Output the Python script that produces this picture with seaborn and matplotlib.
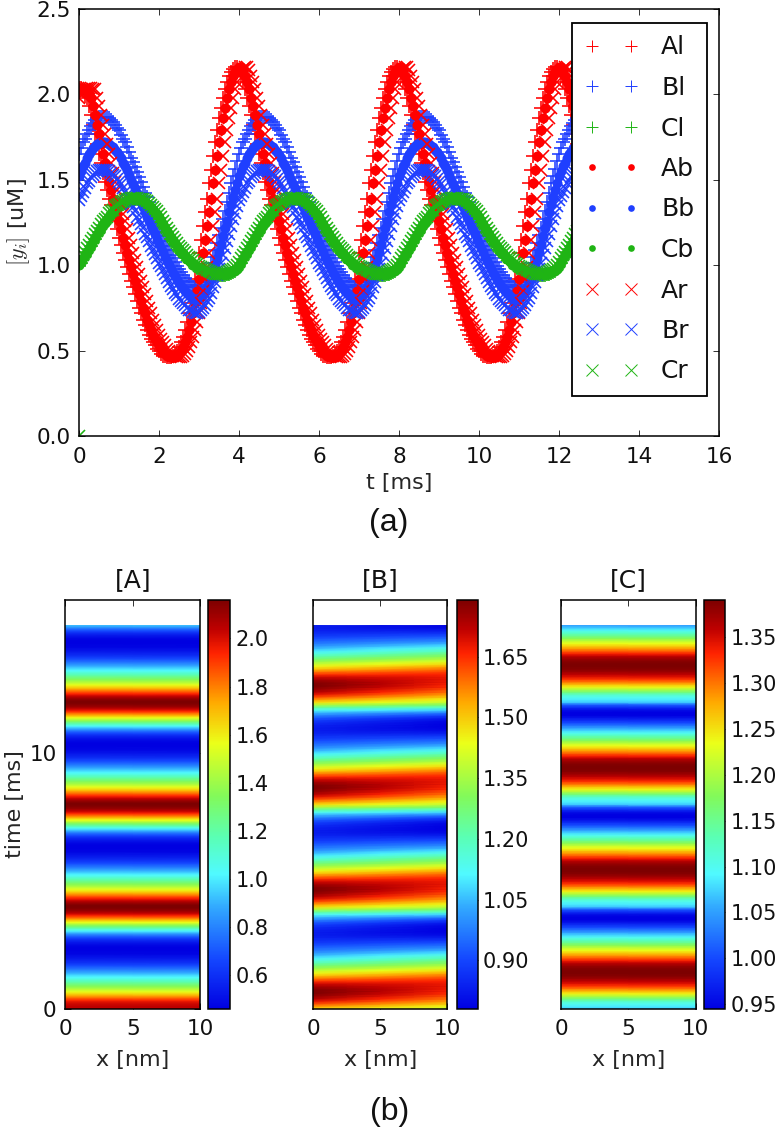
import numpy as np
import matplotlib
matplotlib.use('Agg')
import matplotlib.pyplot as plt
from matplotlib.colors import LinearSegmentedColormap
import seaborn as sns

# one oscillation of each trace, read every 0.05 ms (period about 4 ms)
al_cycle = [2.14,2.11,2.07,2.03,1.98,1.93,1.88,1.82,1.77,1.71,
            1.65,1.60,1.54,1.49,1.44,1.39,1.35,1.30,1.26,1.21,
            1.16,1.12,1.07,1.03,.99,.95,.91,.87,.83,.79,
            .75,.72,.68,.65,.62,.59,.57,.55,.53,.51,
            .50,.48,.47,.47,.46,.46,.46,.47,.48,.50,
            .52,.55,.58,.62,.67,.72,.78,.85,.92,.99,
            1.07,1.15,1.23,1.31,1.39,1.48,1.56,1.64,1.72,1.79,
            1.86,1.92,1.98,2.03,2.07,2.11,2.13,2.15,2.16,2.16]
ab_cycle = [2.16,2.16,2.14,2.11,2.07,2.03,1.98,1.93,1.88,1.82,
            1.77,1.71,1.65,1.60,1.54,1.49,1.44,1.39,1.35,1.30,
            1.26,1.21,1.16,1.12,1.07,1.03,.99,.95,.91,.87,
            .83,.79,.75,.72,.68,.65,.62,.59,.57,.55,
            .53,.51,.50,.48,.47,.47,.46,.46,.46,.47,
            .48,.50,.52,.55,.58,.62,.67,.72,.78,.85,
            .92,.99,1.07,1.15,1.23,1.31,1.39,1.48,1.56,1.64,
            1.72,1.79,1.86,1.92,1.98,2.03,2.07,2.11,2.13,2.15]
ar_cycle = [2.11,2.13,2.15,2.16,2.16,2.14,2.11,2.07,2.03,1.98,
            1.93,1.88,1.82,1.77,1.71,1.65,1.60,1.54,1.49,1.44,
            1.39,1.35,1.30,1.26,1.21,1.16,1.12,1.07,1.03,.99,
            .95,.91,.87,.83,.79,.75,.72,.68,.65,.62,
            .59,.57,.55,.53,.51,.50,.48,.47,.47,.46,
            .46,.46,.47,.48,.50,.52,.55,.58,.62,.67,
            .72,.78,.85,.92,.99,1.07,1.15,1.23,1.31,1.39,
            1.48,1.56,1.64,1.72,1.79,1.86,1.92,1.98,2.03,2.07]
bl_cycle = [1.65,1.685,1.72,1.74,1.77,1.79,1.815,1.83,1.85,1.86,
            1.865,1.87,1.87,1.87,1.865,1.86,1.85,1.84,1.82,1.805,
            1.79,1.765,1.74,1.72,1.69,1.665,1.63,1.605,1.575,1.545,
            1.515,1.49,1.455,1.425,1.40,1.37,1.34,1.31,1.285,1.25,
            1.225,1.195,1.17,1.14,1.115,1.09,1.06,1.04,1.02,.995,
            .975,.96,.94,.925,.91,.90,.885,.875,.87,.87,
            .875,.885,.90,.925,.95,.98,1.01,1.05,1.09,1.13,
            1.175,1.22,1.27,1.32,1.37,1.425,1.48,1.52,1.565,1.61]
bb_cycle = [1.52,1.55,1.58,1.60,1.63,1.65,1.67,1.685,1.70,1.71,
            1.715,1.72,1.72,1.72,1.715,1.71,1.70,1.69,1.675,1.66,
            1.645,1.625,1.60,1.58,1.555,1.53,1.50,1.475,1.45,1.42,
            1.395,1.37,1.34,1.31,1.285,1.26,1.23,1.205,1.18,1.15,
            1.125,1.10,1.075,1.05,1.025,1.00,.975,.955,.935,.915,
            .895,.88,.865,.85,.835,.825,.815,.805,.80,.80,
            .805,.815,.83,.85,.875,.90,.93,.965,1.00,1.04,
            1.08,1.125,1.17,1.215,1.26,1.31,1.36,1.40,1.44,1.48]
br_cycle = [1.38,1.405,1.43,1.45,1.48,1.495,1.515,1.53,1.54,1.55,
            1.555,1.56,1.56,1.56,1.555,1.55,1.54,1.53,1.52,1.505,
            1.49,1.475,1.45,1.43,1.41,1.385,1.36,1.34,1.315,1.285,
            1.265,1.24,1.215,1.185,1.165,1.14,1.11,1.09,1.065,1.04,
            1.015,.995,.97,.95,.925,.90,.88,.86,.84,.825,
            .805,.79,.78,.765,.75,.74,.735,.725,.72,.72,
            .725,.735,.75,.765,.79,.81,.84,.87,.90,.94,
            .975,1.015,1.06,1.10,1.14,1.185,1.23,1.27,1.305,1.345]
cl_cycle = [.995,1.015,1.035,1.055,1.075,1.095,1.115,1.135,1.155,1.175,
            1.195,1.215,1.235,1.245,1.265,1.285,1.295,1.305,1.325,1.335,
            1.345,1.355,1.36,1.365,1.37,1.375,1.38,1.385,1.385,1.385,
            1.38,1.375,1.37,1.365,1.355,1.345,1.335,1.32,1.305,1.295,
            1.275,1.255,1.235,1.215,1.195,1.175,1.155,1.14,1.125,1.105,
            1.09,1.075,1.065,1.05,1.04,1.025,1.015,1.005,.995,.985,
            .975,.97,.965,.96,.955,.95,.945,.945,.945,.945,
            .945,.945,.945,.945,.95,.95,.955,.96,.965,.975]
cb_cycle = [1.00,1.02,1.04,1.06,1.08,1.10,1.12,1.14,1.16,1.18,
            1.20,1.22,1.24,1.25,1.27,1.29,1.30,1.31,1.33,1.34,
            1.35,1.36,1.365,1.37,1.375,1.38,1.385,1.39,1.39,1.39,
            1.385,1.38,1.375,1.37,1.36,1.35,1.34,1.325,1.31,1.30,
            1.28,1.26,1.24,1.22,1.20,1.18,1.16,1.145,1.13,1.11,
            1.095,1.08,1.07,1.055,1.045,1.03,1.02,1.01,1.00,.99,
            .98,.975,.97,.965,.96,.955,.95,.95,.945,.945,
            .945,.945,.945,.95,.95,.955,.96,.965,.97,.98]
cr_cycle = [1.02,1.04,1.06,1.08,1.10,1.12,1.14,1.16,1.18,1.20,
            1.22,1.24,1.26,1.27,1.285,1.305,1.315,1.325,1.345,1.355,
            1.36,1.37,1.375,1.38,1.385,1.39,1.395,1.395,1.395,1.395,
            1.39,1.39,1.385,1.38,1.375,1.365,1.355,1.34,1.33,1.32,
            1.30,1.28,1.26,1.24,1.22,1.20,1.18,1.165,1.15,1.13,
            1.115,1.10,1.09,1.075,1.06,1.05,1.04,1.03,1.015,1.005,
            .995,.99,.985,.975,.97,.965,.96,.955,.95,.95,
            .95,.95,.95,.955,.96,.965,.97,.98,.99,1.00]

# the first peak is lower than the later ones
al_start = [2.04,2.04,2.02,1.99]
ab_start = [2.03,2.04,2.04,2.03,2.02,2.00]
ar_start = [1.98,2.00,2.02,2.03,2.04,2.04,2.04,2.03]
cr_start = [0.0]

# heat map columns, read every 0.1 ms
b_heat_x0 = [1.48,1.55,1.62,1.68,1.73,1.76,1.785,1.79,1.775,1.74,
             1.70,1.64,1.58,1.51,1.45,1.39,1.33,1.27,1.21,1.15,
             1.10,1.05,1.01,.97,.94,.91,.88,.86,.84,.83,
             .83,.84,.86,.89,.93,.99,1.05,1.13,1.23,1.36]
b_heat_x5 = [1.43,1.495,1.56,1.615,1.66,1.69,1.715,1.73,1.725,1.71,
             1.69,1.65,1.605,1.55,1.495,1.435,1.375,1.315,1.26,1.205,
             1.15,1.10,1.05,1.005,.965,.93,.895,.865,.835,.815,
             .805,.81,.82,.845,.885,.945,1.015,1.10,1.205,1.325]
b_heat_x10 = [1.38,1.44,1.50,1.55,1.59,1.62,1.65,1.665,1.675,1.68,
              1.675,1.66,1.63,1.59,1.54,1.48,1.42,1.36,1.31,1.26,
              1.20,1.15,1.09,1.04,.99,.95,.91,.87,.83,.80,
              .785,.78,.785,.80,.84,.90,.98,1.07,1.18,1.29]
c_heat = [1.07,1.085,1.10,1.12,1.16,1.20,1.24,1.27,1.30,1.325,
          1.345,1.36,1.375,1.385,1.39,1.39,1.385,1.375,1.36,1.335,
          1.31,1.285,1.26,1.235,1.21,1.18,1.15,1.125,1.10,1.075,
          1.05,1.025,1.00,.98,.96,.945,.945,.955,.98,1.01]

a_ticks = [0.6, 0.8, 1.0, 1.2, 1.4, 1.6, 1.8, 2.0]
b_ticks = [0.90, 1.05, 1.20, 1.35, 1.50, 1.65]
c_ticks = [0.95, 1.00, 1.05, 1.10, 1.15, 1.20, 1.25, 1.30, 1.35]

W, H = 780, 1131
RED, BLUE, GREEN = '#ff0000', '#1f3fff', '#1fb414'
STEP = 0.05
N = 301

# brighter low end than plain jet, as in the reference colour bars
heat_cmap = LinearSegmentedColormap.from_list('ref_jet', [
    (0.00, '#0000e1'), (0.12, '#1446ff'), (0.25, '#32aaff'), (0.33, '#50faff'),
    (0.42, '#5affb4'), (0.52, '#82fa5a'), (0.65, '#ebff19'), (0.75, '#ffaa00'),
    (0.87, '#ff2300'), (0.93, '#be0000'), (1.00, '#7d0000')], N=512)


def repeat(cycle, start=(), n=N):
    vals = list(cycle) * 4
    vals[:len(start)] = list(start)
    return np.array(vals[:n])


def box(fig, left, top, right, bottom):
    return fig.add_axes([left / W, 1 - bottom / H, (right - left) / W, (bottom - top) / H])


sns.set_style('white')
plt.rcParams.update({
    'font.family': ['DejaVu Sans'], 'font.size': 16, 'axes.linewidth': 1.1,
    'xtick.direction': 'in', 'ytick.direction': 'in',
    'xtick.top': True, 'ytick.right': True,
    'xtick.bottom': True, 'ytick.left': True,
    'xtick.major.size': 4.5, 'ytick.major.size': 4.5,
    'xtick.major.width': 0.6, 'ytick.major.width': 0.6,
    'xtick.major.pad': 7, 'ytick.major.pad': 6,
    'xtick.labelsize': 15.5, 'ytick.labelsize': 15.5,
    'axes.edgecolor': 'black', 'text.color': '#111111',
    'xtick.color': '#111111', 'ytick.color': '#111111',
    'mathtext.fontset': 'cm',
})

fig = plt.figure(figsize=(W / 100, H / 100), dpi=100)

# panel (a)
ax = box(fig, 79, 9, 719, 436)
t_ms = np.arange(N) * STEP
traces = [
    ('Al', repeat(al_cycle, al_start), RED, '+'),
    ('Bl', repeat(bl_cycle), BLUE, '+'),
    ('Cl', repeat(cl_cycle), GREEN, '+'),
    ('Ab', repeat(ab_cycle, ab_start), RED, 'o'),
    ('Bb', repeat(bb_cycle), BLUE, 'o'),
    ('Cb', repeat(cb_cycle), GREEN, 'o'),
    ('Ar', repeat(ar_cycle, ar_start), RED, 'x'),
    ('Br', repeat(br_cycle), BLUE, 'x'),
    ('Cr', repeat(cr_cycle, cr_start), GREEN, 'x'),
]
for name, vals, col, mark in traces:
    size = 7.2 if mark == 'o' else (9.5 if mark == '+' else 8.5)
    sns.lineplot(x=t_ms, y=vals, marker=mark, linestyle='', color=col, markersize=size,
                 markeredgecolor=col, markeredgewidth=1.15 if mark != 'o' else 0,
                 estimator=None, errorbar=None, sort=False, label=name, ax=ax)
ax.set_xlim(0, 16)
ax.set_ylim(0, 2.5)
ax.set_xticks(range(0, 17, 2))
ax.set_yticks([0, 0.5, 1, 1.5, 2, 2.5], labels=['0.0', '0.5', '1.0', '1.5', '2.0', '2.5'])
ax.tick_params(axis='x', pad=8)
ax.set_xlabel('t [ms]', fontsize=16, labelpad=4)
ax.set_ylabel(r'$[y_i]$ [uM]', fontsize=16, labelpad=3)
leg = ax.legend(loc='upper left', bbox_to_anchor=((572 - 79) / 640, (436 - 23) / 427),
                borderaxespad=0, numpoints=2, handlelength=2.16,
                labelspacing=0.66, handletextpad=0.9, borderpad=0.5, fontsize=18,
                fancybox=False, framealpha=1, edgecolor='black')
leg.get_frame().set_linewidth(1.3)
for handle, (name, vals, col, mark) in zip(leg.legend_handles, traces):
    handle.set_markersize(4.8 if mark == 'o' else 8)
    handle.set_markeredgewidth(0 if mark == 'o' else 0.7)
fig.text(389 / W, 1 - 523 / H, '(a)', family='Liberation Sans', fontsize=23, ha='center', va='center')

# panel (b)
a_matrix = np.column_stack([repeat(ab_cycle, ab_start)] * 2)
b_matrix = np.column_stack([repeat(b_heat_x0, n=151), repeat(b_heat_x5, n=151), repeat(b_heat_x10, n=151)])
c_matrix = np.column_stack([repeat(c_heat, n=151)] * 2)
panels = [
    ('[A]', a_matrix, a_ticks, '%.1f', 65, 200.5, 208, 230, STEP),
    ('[B]', b_matrix, b_ticks, '%.2f', 313, 447.5, 456.5, 477.5, 0.1),
    ('[C]', c_matrix, c_ticks, '%.2f', 561, 695.5, 704, 725, 0.1),
]
for i, (title, matrix, ticks, fmt, x0, x1, c0, c1, dt) in enumerate(panels):
    hax = box(fig, x0, 600, x1, 1009)
    cax = box(fig, c0, 600, c1, 1009)
    sns.heatmap(matrix, cmap=heat_cmap, ax=hax, cbar_ax=cax, shading='gouraud',
                xticklabels=False, yticklabels=False,
                cbar_kws={'ticks': ticks, 'format': fmt})
    ncol = matrix.shape[1] - 1
    hax.set_xlim(0, ncol)
    hax.set_ylim(0, 16 / dt)
    hax.set_xticks([0, ncol / 2, ncol], labels=['0', '5', '10'])
    if i == 0:
        hax.set_yticks([0, 10 / dt], labels=['0', '10'], rotation=0)
        hax.set_ylabel('time [ms]', fontsize=16, labelpad=3)
    else:
        hax.set_yticks([])
    hax.set_xlabel('x [nm]', fontsize=16, labelpad=8)
    hax.set_title(title, fontsize=18, pad=9)
    for sp in hax.spines.values():
        sp.set_visible(True)
        sp.set_linewidth(1.1)
    for sp in cax.spines.values():
        sp.set_visible(False)
    cbar = hax.collections[0].colorbar
    cbar.outline.set_visible(True)
    cbar.outline.set_linewidth(1.1)
    cbar.outline.set_edgecolor('black')
    cax.tick_params(direction='in', length=4.5, width=0.6, left=False, right=True, pad=4, labelsize=15)
fig.text(390 / W, 1 - 1112 / H, '(b)', family='Liberation Sans', fontsize=23, ha='center', va='center')

fig.savefig('out.png', dpi=100)
